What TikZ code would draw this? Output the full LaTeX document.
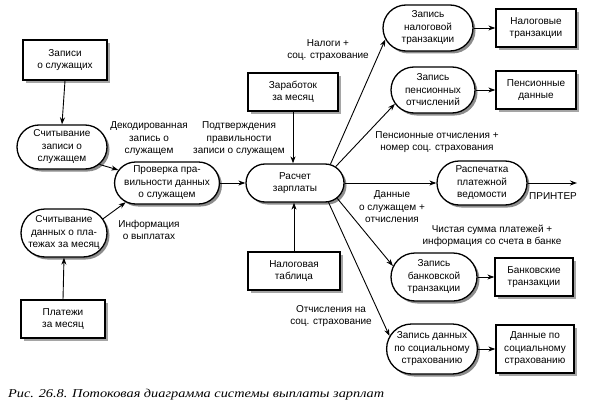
\documentclass[tikz,border=0pt]{standalone}
\usepackage{fontspec}
\setmainfont{Liberation Sans}
\newfontfamily\capfont{Liberation Serif}
\usetikzlibrary{shapes.misc,shadows,arrows.meta}
\begin{document}
\begin{tikzpicture}[x=1pt,y=-1pt,
  every node/.style={font=\fontsize{10}{12.5}\selectfont, align=center, inner sep=1pt},
  databox/.style={draw, line width=1.3pt, fill=white, rectangle,
    drop shadow={shadow xshift=3pt, shadow yshift=-3pt, fill=black!70}},
  procbox/.style={draw, line width=1.3pt, fill=white, rounded rectangle,
    drop shadow={shadow xshift=2.5pt, shadow yshift=-2.5pt, fill=black!90}},
  lbl/.style={inner sep=0pt},
  flow/.style={line width=0.9pt, -{Stealth[length=7pt,width=5pt]}}
]
\useasboundingbox (0,0) rectangle (593,409);

% data stores (rectangles)
\node[databox, minimum width=84pt, minimum height=40pt] (zapisi) at (65,60) {Записи\\о служащих};
\node[databox, minimum width=84pt, minimum height=38pt] (plat) at (63,319) {Платежи\\за месяц};
\node[databox, minimum width=90pt, minimum height=38pt] (zarab) at (293,92) {Заработок\\за месяц};
\node[databox, minimum width=92pt, minimum height=38pt] (ntab) at (294,271) {Налоговая\\таблица};
\node[databox, minimum width=80pt, minimum height=38pt] (nalbox) at (536,28) {Налоговые\\транзакции};
\node[databox, minimum width=80pt, minimum height=38pt] (pensbox) at (536,90) {Пенсионные\\данные};
\node[databox, minimum width=78pt, minimum height=38pt] (bankbox) at (534,277) {Банковские\\транзакции};
\node[databox, minimum width=78pt, minimum height=48pt] (socbox) at (535,349) {Данные по\\социальному\\страхованию};

% processes (rounded)
\node[procbox, minimum width=92pt, minimum height=44pt] (sch1) at (62,147) {Считывание\\записи о\\служащем};
\node[procbox, minimum width=90pt, minimum height=42pt] (prov) at (167,183) {Проверка пра-\\вильности данных\\о служащем};
\node[procbox, minimum width=88pt, minimum height=48pt] (sch2) at (64,233) {Считывание\\данных о пла-\\тежах за месяц};
\node[procbox, minimum width=100pt, minimum height=38pt] (rasch) at (295,183) {Расчет\\зарплаты};
\node[procbox, minimum width=92pt, minimum height=46pt] (naltr) at (428,28) {Запись\\налоговой\\транзакции};
\node[procbox, minimum width=86pt, minimum height=46pt] (pens) at (433,90) {Запись\\пенсионных\\отчислений};
\node[procbox, minimum width=92pt, minimum height=44pt] (rasp) at (482,183) {Распечатка\\платежной\\ведомости};
\node[procbox, minimum width=88pt, minimum height=48pt] (bank) at (434,277) {Запись\\банковской\\транзакции};
\node[procbox, minimum width=90pt, minimum height=50pt] (soc) at (432,349) {Запись данных\\по социальному\\страхованию};

% labels
\node[lbl] (ldekod) at (149,139) {Декодированная\\запись о\\служащем};
\node[lbl] (lpodtv) at (239,139) {Подтверждения\\правильности\\записи о служащем};
\node[lbl] (linfo) at (149,230) {Информация\\о выплатах};
\node[lbl] (lnalogi) at (328,50) {Налоги +\\соц. страхование};
\node[lbl] (lpens) at (437,142) {Пенсионные отчисления +\\номер соц. страхования};
\node[lbl] (ldann) at (392,207) {Данные\\о служащем +\\отчисления};
\node[lbl] (lchist) at (492,236) {Чистая сумма платежей +\\информация со счета в банке};
\node[lbl] (lotch) at (331,316) {Отчисления на\\соц. страхование};
\node[lbl] (printer) at (553,196) {ПРИНТЕР};
\coordinate (prn) at (577,183);

% connectors
\draw[flow] (zapisi.south) -- (sch1.north);
\draw[flow] (plat.north) -- (sch2.south);
\draw[flow] (sch1.-25) -- (prov.165);
\draw[flow] (sch2.20) -- (prov.205);
\draw[flow] (prov.east) -- (rasch.west);
\draw[flow] (zarab.south) -- (zarab.south |- rasch.north);
\draw[flow] (ntab.north) -- (ntab.north |- rasch.south);
\draw[flow] (rasch.28) -- (naltr.195);
\draw[flow] (rasch.22) -- (pens.200);
\draw[flow] (rasch.east) -- (rasp.west);
\draw[flow] (rasch.-20) -- (bank.165);
\draw[flow] (rasch.-30) -- (soc.163);
\draw[flow] (naltr.east) -- (nalbox.west);
\draw[flow] (pens.east) -- (pensbox.west);
\draw[flow] (bank.east) -- (bankbox.west);
\draw[flow] (soc.east) -- (socbox.west);
\draw[flow] (rasp.east) -- (prn);

% caption
\node[anchor=base west, inner sep=0pt] (caption) at (8,397) {\resizebox{376pt}{\height}{\capfont\itshape\fontsize{12}{14}\selectfont Рис. 26.8. Потоковая диаграмма системы выплаты зарплат}};
\end{tikzpicture}
\end{document}
